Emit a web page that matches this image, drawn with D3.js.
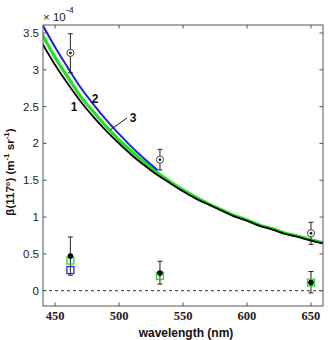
<!DOCTYPE html>
<html><head><meta charset="utf-8">
<script src="https://cdn.jsdelivr.net/npm/d3@7"></script>
<style>body{margin:0;background:#fff}svg{display:block}</style>
</head><body>
<svg id="c" width="330" height="340"></svg>
<script>
// ---- data ----
const xTicks = [450, 500, 550, 600, 650];
const yTicks = [0, 0.5, 1, 1.5, 2, 2.5, 3, 3.5];
const yTickLabels = ["0", "0.5", "1", "1.5", "2", "2.5", "3", "3.5"];
const curveWl = [440,450,460,470,480,490,500,510,520,530,540,550,560,570,580,590,600,610,620,630,640,650,660];
const curve1 = [3.36,3.07,2.81,2.57,2.36,2.17,2.00,1.84,1.70,1.57,1.46,1.35,1.25,1.17,1.09,1.01,0.95,0.88,0.83,0.77,0.73,0.68,0.64];
const curve3 = [3.48,3.17,2.90,2.64,2.43,2.23,2.05,1.89,1.74,1.60,1.48,1.37,1.27,1.18,1.10,1.02,0.96,0.89,0.84,0.78,0.74,0.69,0.65];
const curve2Wl = [440,450,460,470,480,490,500,510,520,530];
const curve2 = [3.62,3.31,3.03,2.76,2.53,2.32,2.13,1.95,1.79,1.64];
const ptWl = [462, 532, 650];
const upperVal = [3.23, 1.78, 0.78];
const upperLo = [2.96, 1.64, 0.63];
const upperHi = [3.49, 1.92, 0.93];
const lowerVal = [0.47, 0.24, 0.11];
const lowerLo = [0.21, 0.09, -0.03];
const lowerHi = [0.73, 0.40, 0.26];
const greenSq = [0.41, 0.20, 0.11];
const blueSqWl = [462];
const blueSq = [0.28];
const curveLabels = ["1", "2", "3"];

// ---- layout ----
const L = 43, R = 323, T = 25, B = 306;
const x = d3.scaleLinear().domain([440.6, 659.4]).range([L, R]);
const y = d3.scaleLinear().domain([-0.208, 3.609]).range([B, T]);
const svg = d3.select("#c");
const axisCol = "#555";

svg.append("defs").append("clipPath").attr("id","clip")
  .append("rect").attr("x",L).attr("y",T).attr("width",R-L).attr("height",B-T);

// zero dashed line
svg.append("line").attr("x1",L).attr("x2",R).attr("y1",y(0)).attr("y2",y(0))
  .attr("stroke","#333").attr("stroke-width",1).attr("stroke-dasharray","3,3");

const line = d3.line().x(d=>x(d[0])).y(d=>y(d[1])).curve(d3.curveMonotoneX);
const g = svg.append("g").attr("clip-path","url(#clip)");
g.append("path").datum(curveWl.map((w,i)=>[w,curve3[i]]))
  .attr("d",line).attr("fill","none").attr("stroke","#22e022").attr("stroke-width",3.2);
g.append("path").datum(curveWl.map((w,i)=>[w,curve1[i]]))
  .attr("d",line).attr("fill","none").attr("stroke","#000").attr("stroke-width",1.8);
g.append("path").datum(curve2Wl.map((w,i)=>[w,curve2[i]]))
  .attr("d",line).attr("fill","none").attr("stroke","#2020e0").attr("stroke-width",2);

// error bars
function errbar(wl, lo, hi){
  const cx = x(wl);
  svg.append("line").attr("x1",cx).attr("x2",cx).attr("y1",y(lo)).attr("y2",y(hi)).attr("stroke","#222").attr("stroke-width",1);
  [lo,hi].forEach(v=>svg.append("line").attr("x1",cx-2.5).attr("x2",cx+2.5).attr("y1",y(v)).attr("y2",y(v)).attr("stroke","#222").attr("stroke-width",1));
}
ptWl.forEach((w,i)=>{ errbar(w, upperLo[i], upperHi[i]); errbar(w, lowerLo[i], lowerHi[i]); });

// green squares
ptWl.forEach((w,i)=>{
  svg.append("rect").attr("x",x(w)-3.5).attr("y",y(greenSq[i])-3.5).attr("width",7).attr("height",7)
    .attr("fill","none").attr("stroke","#22dd22").attr("stroke-width",1.3);
});
blueSqWl.forEach((w,i)=>{
  svg.append("rect").attr("x",x(w)-3.5).attr("y",y(blueSq[i])-3.5).attr("width",7).attr("height",7)
    .attr("fill","none").attr("stroke","#2a2ae0").attr("stroke-width",1.3);
});
// lower filled dots
ptWl.forEach((w,i)=>{
  svg.append("circle").attr("cx",x(w)).attr("cy",y(lowerVal[i])).attr("r",2.8).attr("fill","#000");
});
// upper circle-dot markers
ptWl.forEach((w,i)=>{
  svg.append("circle").attr("cx",x(w)).attr("cy",y(upperVal[i])).attr("r",3.6)
    .attr("fill","#fff").attr("stroke","#444").attr("stroke-width",1);
  svg.append("circle").attr("cx",x(w)).attr("cy",y(upperVal[i])).attr("r",1.4).attr("fill","#222");
});

// axes box
svg.append("rect").attr("x",L).attr("y",T).attr("width",R-L).attr("height",B-T)
  .attr("fill","none").attr("stroke",axisCol).attr("stroke-width",1);
const tl = 3.5;
xTicks.forEach(v=>{
  svg.append("line").attr("x1",x(v)).attr("x2",x(v)).attr("y1",B).attr("y2",B-tl).attr("stroke",axisCol);
  svg.append("line").attr("x1",x(v)).attr("x2",x(v)).attr("y1",T).attr("y2",T+tl).attr("stroke",axisCol);
  svg.append("text").attr("x",x(v)).attr("y",320).attr("text-anchor","middle")
    .attr("font-family","Liberation Serif, serif").attr("font-weight","bold").attr("font-size",12.5)
    .attr("fill","#222").text(v);
});
yTicks.forEach((v,i)=>{
  svg.append("line").attr("x1",L).attr("x2",L+tl).attr("y1",y(v)).attr("y2",y(v)).attr("stroke",axisCol);
  svg.append("line").attr("x1",R).attr("x2",R-tl).attr("y1",y(v)).attr("y2",y(v)).attr("stroke",axisCol);
  svg.append("text").attr("x",39).attr("y",y(v)+4).attr("text-anchor","end")
    .attr("font-family","Liberation Sans, Arial, sans-serif").attr("font-size",11.5)
    .attr("fill","#222").text(yTickLabels[i]);
});

// exponent
const ex = svg.append("text").attr("x",43).attr("y",21).attr("font-family","Liberation Sans, Arial, sans-serif")
  .attr("font-size",11.5).attr("fill","#222");
ex.append("tspan").text("× 10");
ex.append("tspan").attr("dy",-8).attr("font-size",9).text("-4");

// axis labels
svg.append("text").attr("x",186).attr("y",337).attr("text-anchor","middle")
  .attr("font-family","Liberation Sans, Arial, sans-serif").attr("font-weight","bold").attr("font-size",12)
  .attr("fill","#111").text("wavelength (nm)");
const yl = svg.append("text").attr("transform","translate(14,172) rotate(-90)").attr("text-anchor","middle")
  .attr("font-family","Liberation Sans, Arial, sans-serif").attr("font-weight","bold").attr("font-size",11.5)
  .attr("fill","#111");
yl.append("tspan").text("β(117°) (m");
yl.append("tspan").attr("dy",-5).attr("font-size",8).text("-1");
yl.append("tspan").attr("dy",5).text(" sr");
yl.append("tspan").attr("dy",-5).attr("font-size",8).text("-1");
yl.append("tspan").attr("dy",5).text(")");

// curve labels
const lab = {fam:"Liberation Sans, Arial, sans-serif"};
const labPos = [[74,111],[95,103],[133,122]];
curveLabels.forEach((t,i)=>{
  svg.append("text").attr("x",labPos[i][0]).attr("y",labPos[i][1]).attr("text-anchor","middle")
    .attr("font-family",lab.fam).attr("font-weight","bold").attr("font-size",12).attr("fill","#111").text(t);
});
svg.append("line").attr("x1",110).attr("y1",130).attr("x2",127).attr("y2",118).attr("stroke","#111").attr("stroke-width",1);
</script>
</body></html>
